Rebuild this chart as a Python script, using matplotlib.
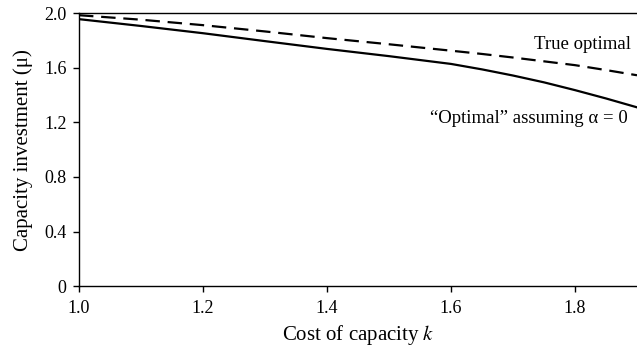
import numpy as np
import matplotlib
matplotlib.use("Agg")
import matplotlib.pyplot as plt

plt.rcParams["font.family"] = ["Liberation Serif", "DejaVu Serif"]
plt.rcParams["mathtext.fontset"] = "stix"

# cost of capacity k
k = [1.0, 1.1, 1.2, 1.3, 1.4, 1.5, 1.6, 1.65, 1.7, 1.75, 1.8, 1.85, 1.9]
# true optimal capacity (dashed)
true_opt = [1.985, 1.952, 1.912, 1.866, 1.817, 1.772, 1.725, 1.701, 1.675, 1.647, 1.619, 1.583, 1.545]
# "optimal" assuming alpha = 0 (solid)
naive_opt = [1.956, 1.906, 1.853, 1.795, 1.738, 1.685, 1.628, 1.588, 1.543, 1.493, 1.436, 1.375, 1.31]

xticks = [1.0, 1.2, 1.4, 1.6, 1.8]
yticks = [0, 0.4, 0.8, 1.2, 1.6, 2.0]
ytick_labels = ["0", "0.4", "0.8", "1.2", "1.6", "2.0"]

fig = plt.figure(figsize=(6.37, 3.46), dpi=100)
ax = fig.add_axes([0.124, 0.173, 0.876, 0.789])

ax.plot(k, naive_opt, color="black", lw=1.6)
ax.plot(k, true_opt, color="black", lw=1.6, dashes=(6.5, 3.5))

ax.set_xlim(1.0, 1.9)
ax.set_ylim(0, 2.0)
ax.set_xticks(xticks)
ax.set_xticklabels(["%.1f" % v for v in xticks])
ax.set_yticks(yticks)
ax.set_yticklabels(ytick_labels)
ax.tick_params(direction="out", length=4, width=1, labelsize=13, colors="black")
ax.tick_params(axis="x", pad=6)
ax.tick_params(axis="y", pad=5)
ax.spines["right"].set_visible(False)
for s in ["left", "bottom", "top"]:
    ax.spines[s].set_linewidth(1)

ax.set_xlabel("Cost of capacity $k$", fontsize=15, labelpad=4)
ax.set_ylabel("Capacity investment (\u03bc)", fontsize=15, labelpad=8)

ax.text(1.89, 1.773, "True optimal", fontsize=13.5, ha="right", va="center")
ax.text(1.885, 1.23, "\u201cOptimal\u201d assuming \u03b1 = 0", fontsize=13.5,
        ha="right", va="center")

fig.savefig("out.png", dpi=100)
